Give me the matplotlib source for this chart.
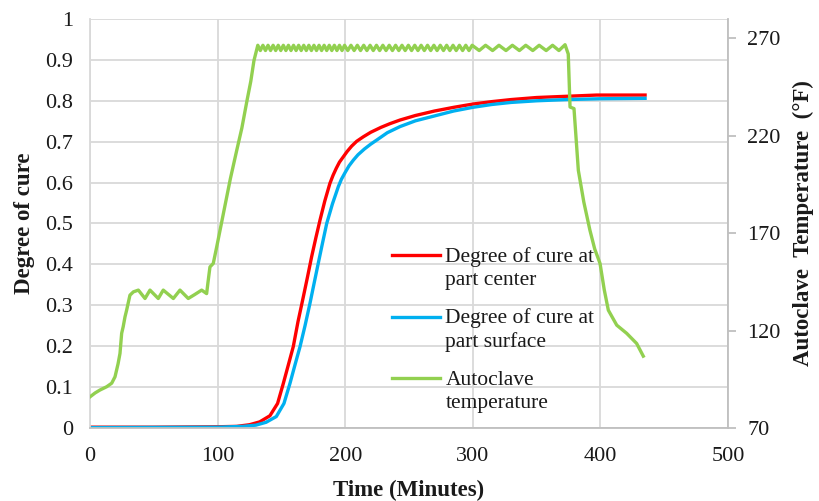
import matplotlib
matplotlib.use('Agg')
import numpy as np
import matplotlib.pyplot as plt
from matplotlib.lines import Line2D
from matplotlib.legend_handler import HandlerLine2D

plt.rcParams['font.family'] = ['Liberation Serif', 'DejaVu Serif']

# ---------------- data ----------------
time_center = [0, 50, 100, 115, 125, 133, 141, 147, 151.5, 155.5, 159.3, 163, 167.2,
               170.5, 173.7, 177, 180.3, 184, 188, 190.5, 193, 195.5, 198.5, 201.5, 205,
               209, 214.2, 220, 228, 235, 243, 255, 270, 285, 300, 315, 330, 350, 373.5,
               397, 435]
cure_center = [0.002, 0.002, 0.003, 0.004, 0.008, 0.015, 0.03, 0.06, 0.109, 0.155, 0.199,
               0.26, 0.321, 0.37, 0.419, 0.465, 0.509, 0.555, 0.598, 0.618, 0.635, 0.65,
               0.663, 0.676, 0.689, 0.701, 0.712, 0.723, 0.735, 0.744, 0.753, 0.764,
               0.775, 0.784, 0.792, 0.798, 0.803, 0.808, 0.811, 0.814, 0.814]

time_surface = [0, 100, 120, 130, 138, 146, 152, 156.7, 160.7, 164.6, 168.5, 172.4, 175.7,
                178.9, 182.2, 185.5, 190, 194.6, 197, 200, 203, 206.4, 210, 215, 220,
                224.7, 233, 243, 255, 270, 285, 300, 315, 330, 350, 373.5, 400, 435]
cure_surface = [0.001, 0.002, 0.004, 0.007, 0.014, 0.028, 0.06, 0.109, 0.155, 0.199, 0.25,
                0.305, 0.355, 0.403, 0.452, 0.5, 0.548, 0.59, 0.608, 0.625, 0.641, 0.655,
                0.668, 0.682, 0.694, 0.704, 0.722, 0.737, 0.751, 0.763, 0.775, 0.784,
                0.791, 0.796, 0.800, 0.803, 0.805, 0.806]

temp_time = [0, 4, 7.8, 13.1, 17, 19.6, 22, 23.5, 24.8, 26, 27.4, 28.7, 31.3, 34,
             37.9, 43.1, 47, 53.5, 57.4, 65.3, 70.5, 77, 82, 87.5, 91.4, 92.5, 94, 96.6,
             99.3, 101.9, 106.6, 110, 115, 119, 123, 126, 128.5,
             131.5, 133.5, 135.5, 137.5, 139.5, 141.5, 143.5, 145.5, 147.5, 149.5, 151.5,
             153.5, 155.5, 157.5, 159.5, 161.5, 163.5, 165.5, 167.5, 169.5, 171.5, 173.5,
             175.5, 177.5, 179.5, 181.5, 183.5, 185.5, 187.5, 189.5, 191.5, 193.5, 195.5,
             197.5, 199.5,
             202, 204.5, 207, 209.5, 212, 214.5, 217, 219.5, 222, 224.5, 227, 229.5, 232,
             234.5, 237, 239.5, 242, 244.5, 247, 249.5, 252, 254.5, 257, 259.5, 262, 264.5,
             267, 269.5, 272, 274.5, 277, 279.5, 282, 284.5, 287, 289.5, 292, 294.5, 297,
             299.5,
             305, 310, 315.5, 320.5, 326, 331, 336.5, 341.5, 347, 352, 357.5, 362.5, 367.5,
             372.3,
             374.8, 376.2, 379.3, 382.7, 387, 391.8, 395.5, 399.7, 403, 406.2, 412.8,
             420.6, 428.4, 433.6]
temp_vals = [86, 88, 89.5, 91.2, 93, 96.3, 103, 108.3, 118.6, 122, 127, 130.5, 138.2, 139.9,
             140.8, 136.5, 140.8, 136.5, 140.8, 136.5, 140.8, 136.5, 138.5, 140.8, 139, 145,
             152.7, 154.5, 163, 171.5, 187, 198, 212.6, 224, 238, 248, 258.7,
             266.5, 263.8, 266.5, 263.8, 266.5, 263.8, 266.5, 263.8, 266.5, 263.8, 266.5,
             263.8, 266.5, 263.8, 266.5, 263.8, 266.5, 263.8, 266.5, 263.8, 266.5, 263.8,
             266.5, 263.8, 266.5, 263.8, 266.5, 263.8, 266.5, 263.8, 266.5, 263.8, 266.5,
             263.8, 266.5,
             263.8, 266.5, 263.8, 266.5, 263.8, 266.5, 263.8, 266.5, 263.8, 266.5, 263.8,
             266.5, 263.8, 266.5, 263.8, 266.5, 263.8, 266.5, 263.8, 266.5, 263.8, 266.5,
             263.8, 266.5, 263.8, 266.5, 263.8, 266.5, 263.8, 266.5, 263.8, 266.5, 263.8,
             266.5, 263.8, 266.5, 263.8, 266.5, 263.8, 266.5,
             263.8, 266.5, 263.8, 266.5, 263.8, 266.5, 263.8, 266.5, 263.8, 266.5, 263.8,
             266.5, 263.8, 266.8,
             262, 234.8, 234, 202.3, 186, 171.5, 162, 154.5, 141, 130.5, 122.8,
             118.6, 113.4, 106.9]

x_ticks = [0, 100, 200, 300, 400, 500]
x_labels = ['0', '100', '200', '300', '400', '500']
y_ticks = [0, 0.1, 0.2, 0.3, 0.4, 0.5, 0.6, 0.7, 0.8, 0.9, 1.0]
y_labels = ['0', '0.1', '0.2', '0.3', '0.4', '0.5', '0.6', '0.7', '0.8', '0.9', '1']
y2_ticks = [70, 120, 170, 220, 270]
y2_labels = ['70', '120', '170', '220', '270']

series_labels = ['Degree of cure at\npart center', 'Degree of cure at\npart surface',
                 'Autoclave\ntemperature']


class UpperLineHandler(HandlerLine2D):
    """Legend handle drawn at the level of the first text line."""
    def __init__(self, shift=0.55, **kw):
        super().__init__(**kw)
        self.shift = shift

    def create_artists(self, legend, orig_handle, xdescent, ydescent, width, height,
                       fontsize, trans):
        arts = super().create_artists(legend, orig_handle, xdescent, ydescent, width,
                                      height, fontsize, trans)
        for a in arts:
            a.set_ydata(np.asarray(a.get_ydata()) + self.shift * fontsize)
        return arts


# ---------------- figure ----------------
grid_c = '#d9d9d9'
spine_c = '#bfbfbf'
text_c = '#1a1a1a'
tick_fs = 16
label_fs = 16.5

fig = plt.figure(figsize=(8.19, 5.01), dpi=100)
ax = fig.add_axes([0.1099, 0.1457, 0.7790, 0.8164])
ax.set_xlim(0, 500)
ax.set_ylim(0, 1)
ax.set_xticks(x_ticks)
ax.set_xticklabels(x_labels)
ax.set_yticks(y_ticks)
ax.set_yticklabels(y_labels)
ax.grid(True, color=grid_c, lw=1.3)
ax.set_axisbelow(True)
for s in ['top', 'right']:
    ax.spines[s].set_visible(False)
ax.spines['left'].set_color(grid_c)
ax.spines['left'].set_linewidth(1.3)
ax.spines['bottom'].set_color(spine_c)
ax.spines['bottom'].set_linewidth(1.3)
ax.tick_params(axis='both', length=0, labelsize=tick_fs, labelcolor=text_c)
ax.tick_params(axis='x', pad=14)
ax.tick_params(axis='y', pad=12)

l1, = ax.plot(time_center, cure_center, color='#ff0000', lw=2.4)
l2, = ax.plot(time_surface, cure_surface, color='#00b0f0', lw=2.4)

ax2 = ax.twinx()
ax2.set_ylim(70, 280)
ax2.set_yticks(y2_ticks)
ax2.set_yticklabels(y2_labels)
for s in ['top', 'left', 'bottom']:
    ax2.spines[s].set_visible(False)
ax2.spines['right'].set_color(spine_c)
ax2.spines['right'].set_linewidth(1.3)
ax2.tick_params(axis='y', length=6, width=1.3, color=spine_c, labelsize=tick_fs,
                labelcolor=text_c, pad=8)
l3, = ax2.plot(temp_time, temp_vals, color='#92d050', lw=2.4)

ax.set_xlabel('Time (Minutes)', fontsize=label_fs, fontweight='bold', color=text_c)
ax.set_ylabel('Degree of cure', fontsize=label_fs, fontweight='bold', color=text_c)
ax2.set_ylabel('Autoclave  Temperature  (°F)', fontsize=label_fs, fontweight='bold',
               color=text_c)
ax.xaxis.set_label_coords(0.5, -0.1516)
ax.xaxis.label.set_va('center')
ax.yaxis.set_label_coords(-0.102, 0.5)
ax.yaxis.label.set_va('center')
ax2.yaxis.set_label_coords(1.1176, 0.5)
ax2.yaxis.label.set_va('center')

leg = ax2.legend([l1, l2, l3], series_labels, loc='upper left',
                 bbox_to_anchor=(0.4734, 0.443), frameon=False, fontsize=15.5,
                 handlelength=2.23, handletextpad=0.25, borderpad=0, borderaxespad=0,
                 labelspacing=0.85,
                 handler_map={Line2D: UpperLineHandler(shift=0.6)})
for t in leg.get_texts():
    t.set_linespacing(1.3)
    t.set_color(text_c)

fig.savefig('out.png', dpi=100)
